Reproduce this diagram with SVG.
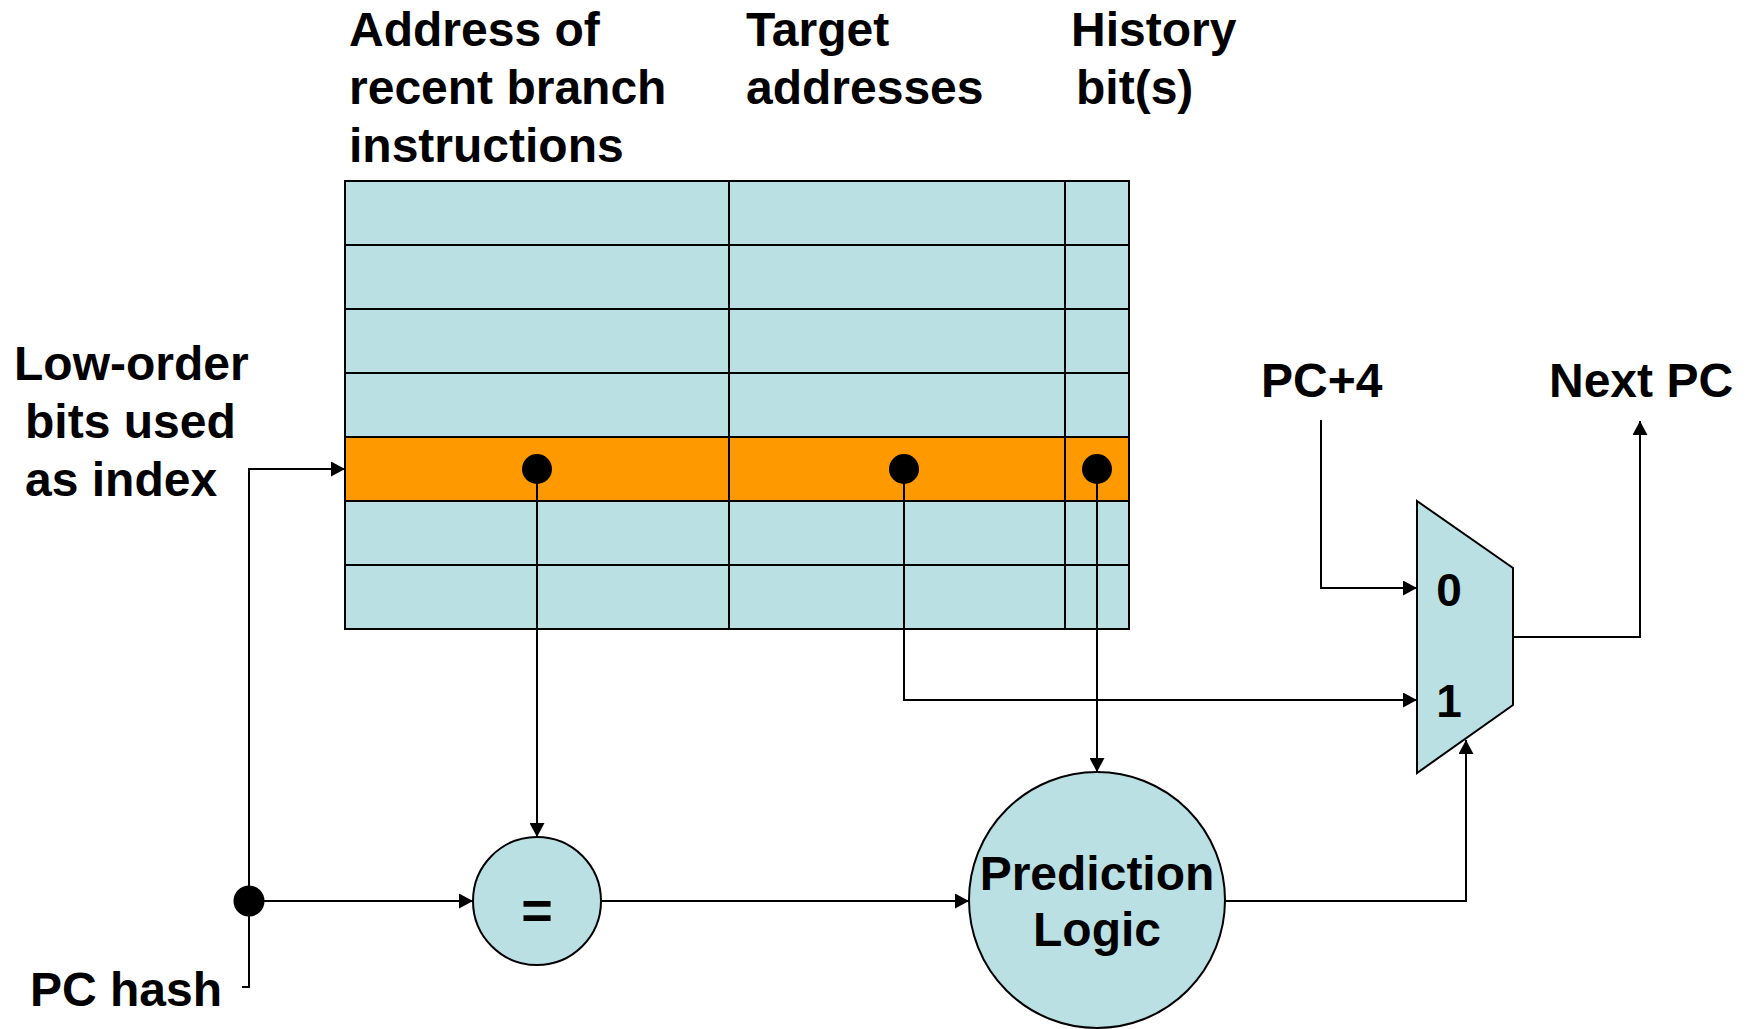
<svg xmlns="http://www.w3.org/2000/svg" width="1750" height="1029" viewBox="0 0 1750 1029">
  <style>
    .lbl { font-family: "Liberation Sans", Arial, sans-serif; font-weight: bold; font-size: 48px; fill: #000; }
    .cell { fill: #BBE0E3; stroke: #000; stroke-width: 2; }
    .hit { fill: #FF9900; stroke: #000; stroke-width: 2; }
    .node { fill: #BBE0E3; stroke: #000; stroke-width: 2; }
    .wire { fill: none; stroke: #000; stroke-width: 2; }
    .arrow { fill: none; stroke: #000; stroke-width: 2; marker-end: url(#head); }
    .dot { fill: #000; }
  </style>
  <defs>
    <marker id="head" markerUnits="userSpaceOnUse" markerWidth="15" markerHeight="15" refX="14" refY="7.5" orient="auto" viewBox="0 0 15 15">
      <path d="M0,0 L14,7.5 L0,15 z" fill="#000"/>
    </marker>
  </defs>

  <!-- column headings -->
  <g id="headings">
    <text class="lbl" x="349" y="46">Address of</text>
    <text class="lbl" x="349" y="104">recent branch</text>
    <text class="lbl" x="349" y="162">instructions</text>
    <text class="lbl" x="746" y="46">Target</text>
    <text class="lbl" x="746" y="104">addresses</text>
    <text class="lbl" x="1071" y="46">History</text>
    <text class="lbl" x="1076" y="104">bit(s)</text>
  </g>

  <!-- branch target buffer: 7 rows x 3 columns, row 5 selected -->
  <g id="btb">
    <rect class="cell" x="345" y="181" width="784" height="448"/>
    <rect class="hit" x="345" y="437" width="784" height="64"/>
    <path class="wire" d="M345,245 H1129 M345,309 H1129 M345,373 H1129 M345,437 H1129 M345,501 H1129 M345,565 H1129 M729,181 V629 M1065,181 V629"/>
    <circle class="dot" cx="537" cy="469" r="15"/>
    <circle class="dot" cx="904" cy="469" r="15"/>
    <circle class="dot" cx="1097" cy="469" r="15"/>
  </g>

  <!-- input labels -->
  <g id="index-label">
    <text class="lbl" x="14" y="380">Low-order</text>
    <text class="lbl" x="25" y="438">bits used</text>
    <text class="lbl" x="25" y="496">as index</text>
  </g>
  <g id="pc-hash">
    <text class="lbl" x="30" y="1006">PC hash</text>
    <circle class="dot" cx="249" cy="901" r="15.5"/>
  </g>

  <!-- comparator -->
  <g id="compare">
    <circle class="node" cx="537" cy="901" r="64"/>
    <text class="lbl" x="537" y="929" text-anchor="middle" style="font-size:54px">=</text>
  </g>

  <!-- prediction logic -->
  <g id="prediction">
    <circle class="node" cx="1097" cy="900" r="128"/>
    <text class="lbl" x="1097" y="890" text-anchor="middle">Prediction</text>
    <text class="lbl" x="1097" y="946" text-anchor="middle">Logic</text>
  </g>

  <!-- next-PC multiplexer -->
  <g id="mux">
    <polygon class="node" points="1417,501 1513,568 1513,705 1417,773"/>
    <text class="lbl" x="1449" y="606" text-anchor="middle" style="font-size:46px">0</text>
    <text class="lbl" x="1449" y="717" text-anchor="middle" style="font-size:46px">1</text>
  </g>
  <g id="pc4-label">
    <text class="lbl" x="1261" y="397">PC+4</text>
  </g>
  <g id="nextpc-label">
    <text class="lbl" x="1549" y="397">Next PC</text>
  </g>

  <!-- connectors -->
  <g id="connectors">
    <path class="wire" d="M242,987 H249 V901"/>
    <path class="arrow" d="M249,901 V469 H345"/>
    <path class="arrow" d="M249,901 H473"/>
    <path class="arrow" d="M537,469 V837"/>
    <path class="arrow" d="M904,469 V700 H1417"/>
    <path class="arrow" d="M1097,469 V772"/>
    <path class="arrow" d="M601,901 H969"/>
    <path class="arrow" d="M1225,901 H1466 V740"/>
    <path class="arrow" d="M1321,420 V588 H1417"/>
    <path class="arrow" d="M1513,637 H1640 V421"/>
  </g>
</svg>
